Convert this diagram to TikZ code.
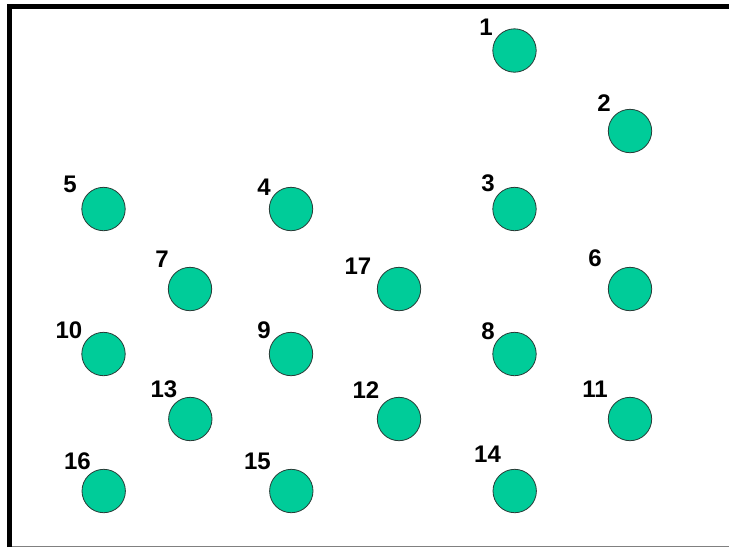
\documentclass[tikz,border=0pt]{standalone}
\usepackage{fontspec}
\setmainfont{Liberation Sans}
\definecolor{dotgreen}{RGB}{0,204,153}
\definecolor{edgegray}{RGB}{40,60,55}
\begin{document}
\begin{tikzpicture}[x=1pt,y=-1pt,
  dot/.style={circle,fill=dotgreen,draw=edgegray,line width=0.8pt,minimum size=43.4pt,inner sep=0pt},
  lbl/.style={font=\bfseries\fontsize{24}{24}\selectfont,inner sep=0pt,anchor=center}]
\useasboundingbox (0,0) rectangle (729,547);
\fill[white] (0,0) rectangle (729,547);
% frame
\draw[line width=5pt,line join=miter] (9.8,547) -- (9.8,6.5) -- (729,6.5);
\draw[gray,line width=1pt] (12,546) -- (729,546);
% circles
\foreach \n/\x/\y in {1/514.5/50.5, 2/630/131, 3/514.5/209, 4/291/209, 5/103.5/209,
  6/630/289, 7/190/289, 17/399/289, 10/103.5/354, 9/291/354, 8/514.5/354,
  13/190.3/419, 12/399/419, 11/630/419, 16/103.7/491, 15/291.3/491, 14/514.7/491}
  \node[dot] (c\n) at (\x,\y) {};
% labels
\foreach \n/\x/\y in {1/486/27.5, 2/604/103, 3/488/183, 4/264/187, 5/70/184,
  6/595/258, 7/162/259, 17/358/266, 10/69/330.5, 9/264/330, 8/488/331,
  13/164/389.5, 12/366/390, 11/595/389.5, 16/77.5/461, 15/257.5/461, 14/487.5/454}
  \node[lbl] (l\n) at (\x,\y) {\n};
\end{tikzpicture}
\end{document}
